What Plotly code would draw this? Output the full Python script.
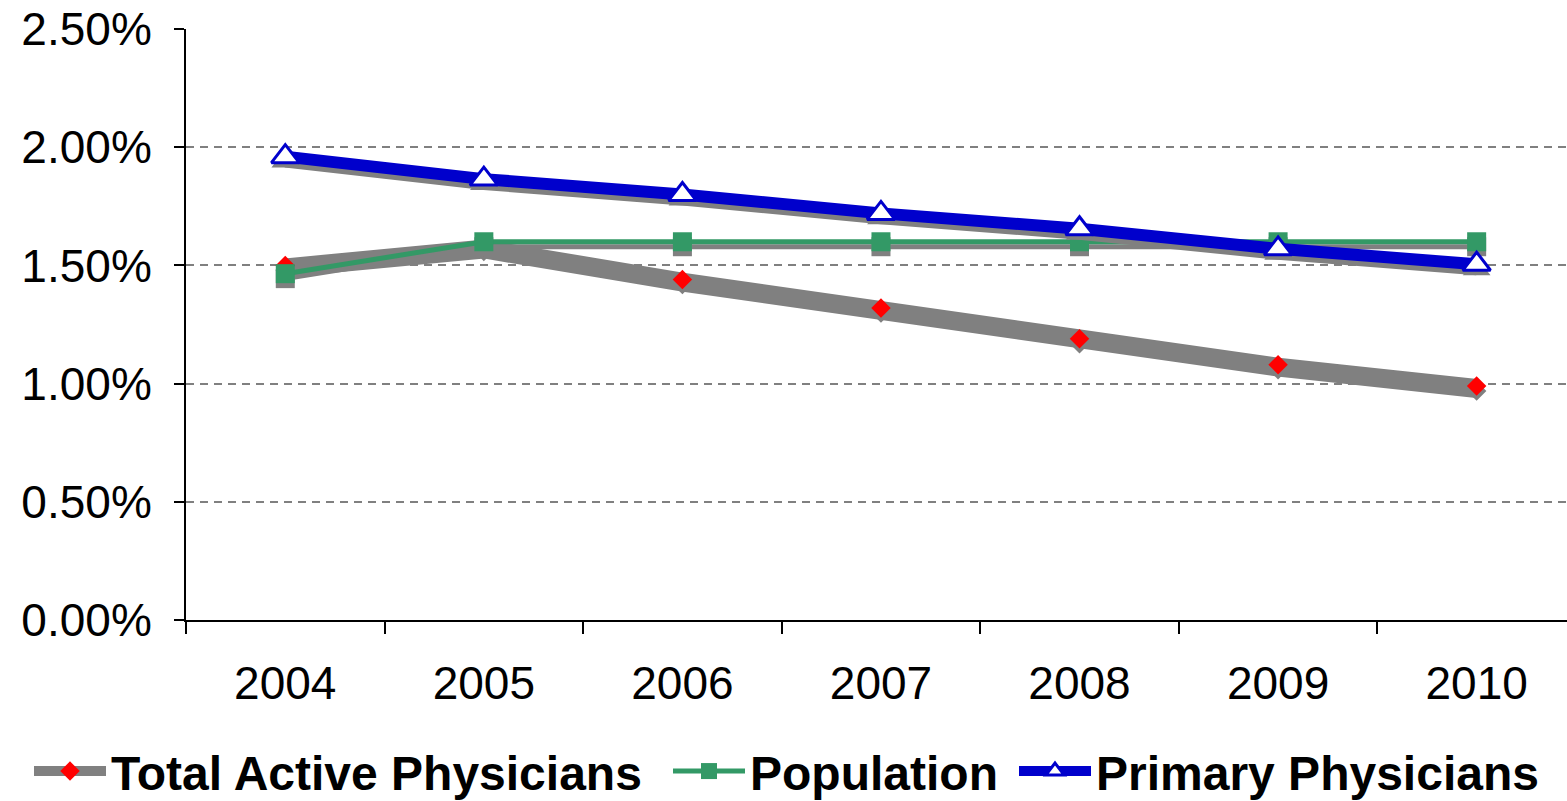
import plotly.graph_objects as go

years = ["2004", "2005", "2006", "2007", "2008", "2009", "2010"]
total_active = [1.50, 1.58, 1.44, 1.32, 1.19, 1.08, 0.99]
population = [1.465, 1.60, 1.60, 1.60, 1.60, 1.60, 1.60]
primary = [1.96, 1.865, 1.80, 1.72, 1.655, 1.57, 1.505]

y_ticks = [0, 0.5, 1.0, 1.5, 2.0, 2.5]

SHADOW = 0.021  # ~5px drop shadow (Excel style)
GRAY = "#808080"
FONT = "Liberation Sans, Arial, sans-serif"

fig = go.Figure()


def shadow(vals, width, symbol, size):
    fig.add_trace(go.Scatter(
        x=years, y=[v - SHADOW for v in vals], mode="lines+markers",
        line=dict(color=GRAY, width=width),
        marker=dict(symbol=symbol, size=size, color=GRAY),
        showlegend=False, hoverinfo="skip"))


shadow(total_active, 14, "diamond", 15)
fig.add_trace(go.Scatter(
    x=years, y=total_active, name="Total Active Physicians", mode="lines+markers",
    line=dict(color=GRAY, width=14),
    marker=dict(symbol="diamond", size=15, color="#FF0000", line=dict(width=0)),
    legend="legend"))

shadow(population, 5, "square", 19)
fig.add_trace(go.Scatter(
    x=years, y=population, name="Population", mode="lines+markers",
    line=dict(color="#339966", width=5),
    marker=dict(symbol="square", size=19, color="#339966", line=dict(width=0)),
    legend="legend2"))

shadow(primary, 12, "triangle-up", 24)
fig.add_trace(go.Scatter(
    x=years, y=primary, name="Primary Physicians", mode="lines+markers",
    line=dict(color="#0000CC", width=12),
    marker=dict(symbol="triangle-up", size=24, color="white",
                line=dict(color="#0000CC", width=3)),
    legend="legend3"))

legend_common = dict(
    orientation="h", xref="container", yref="container", y=0.037,
    yanchor="middle", xanchor="left", itemwidth=72,
    font=dict(family=FONT, size=48, color="black", weight="bold"),
    bgcolor="rgba(0,0,0,0)", borderwidth=0)

fig.update_layout(
    width=1567, height=801,
    margin=dict(l=186, r=0, t=29, b=181),
    paper_bgcolor="white", plot_bgcolor="white",
    font=dict(family=FONT, color="black"),
    legend=dict(legend_common, x=29 / 1567),
    legend2=dict(legend_common, x=668 / 1567),
    legend3=dict(legend_common, x=1014 / 1567),
    xaxis=dict(
        type="category", range=[-0.5, 6.455],
        showline=True, linecolor="black", linewidth=2,
        ticks="outside", ticklen=12, tickwidth=2, tickcolor="black",
        tickson="boundaries", showgrid=False,
        tickfont=dict(family=FONT, size=46, color="black"),
        ticklabelstandoff=22),
    yaxis=dict(
        range=[0, 2.5], tickvals=y_ticks,
        ticktext=[f"{v:.2f}%" for v in y_ticks],
        showline=True, linecolor="black", linewidth=2,
        ticks="outside", ticklen=10, tickwidth=2, tickcolor="black",
        showgrid=True, gridcolor="#808080", gridwidth=2, griddash="8px,6px",
        zeroline=False,
        tickfont=dict(family=FONT, size=46, color="black"),
        ticklabelstandoff=13),
)

fig.write_html(
    "out.html",
    config={"displayModeBar": False},
    post_script="document.body.style.margin='0';document.body.style.padding='0';"
                "document.body.style.overflow='hidden';")
